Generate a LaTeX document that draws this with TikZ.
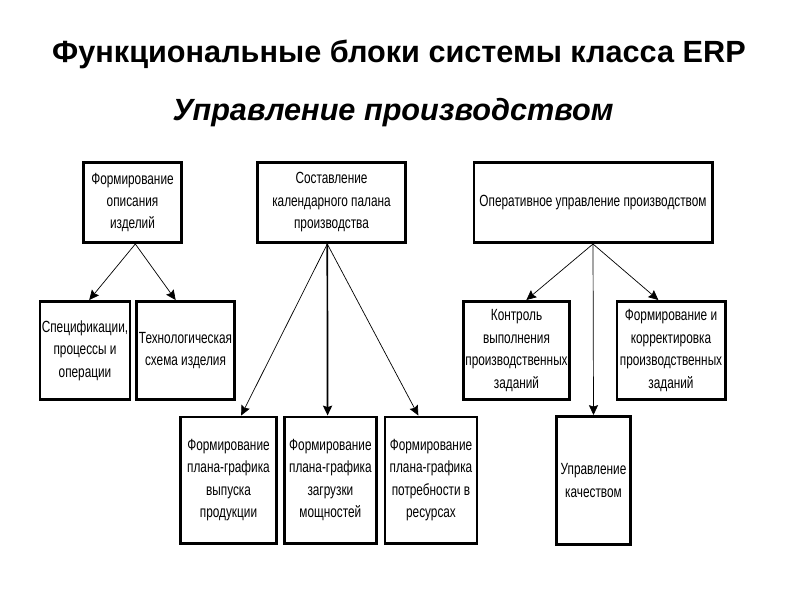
\documentclass[tikz,border=0pt]{standalone}
\usepackage{fontspec}
\setmainfont{Liberation Sans}
\newfontfamily\narrowfont[FakeStretch=0.73]{Liberation Sans}
\usepackage{tikz}
\usetikzlibrary{arrows.meta,positioning}
\tikzset{
    %Define standard arrow tip
    >={Stealth[length=7pt,width=6.5pt,inset=1pt]},
    %Define style for boxes
    block/.style={
           rectangle,
           draw=black, line width=2.1pt,
           inner sep=1pt,
           font=\narrowfont\fontsize{11.5}{16}\selectfont,
           align=center},
    % Define arrow style
    pil/.style={
           ->,
           line width=0.5pt,
           shorten >=0pt,
           shorten <=0pt},
    headline/.style={
           font=\fontsize{21.8}{26}\selectfont\bfseries}
}
\begin{document}
\begin{tikzpicture}[x=0.025cm,y=-0.025cm]
\useasboundingbox (0,0) rectangle (800,600);
\node[headline](t1) at (399,54){Функциональные блоки системы класса ERP};
\node[headline,font=\fontsize{21.8}{26}\selectfont\bfseries\itshape](t2) at (393,113){Управление производством};
% top row
\node[block, minimum width=2.45cm, minimum height=2.0cm](1) at (132.5,202.5){Формирование\\описания\\изделий};
\node[block, minimum width=3.7cm, minimum height=2.0cm](2) at (331.5,202.5){Составление\\календарного палана\\производства};
\node[block, minimum width=5.95cm, minimum height=2.0cm](3) at (593,202.5){Оперативное управление производством};
% second row
\node[block, minimum width=2.25cm, minimum height=2.45cm](4) at (85,350.5){Спецификации,\\процессы и\\операции};
\node[block, minimum width=2.45cm, minimum height=2.45cm, right=2.5pt of 4](5){Технологическая\\схема изделия};
\node[block, minimum width=2.65cm, minimum height=2.45cm](9) at (516.5,350.5){Контроль\\выполнения\\производственных\\заданий};
\node[block, minimum width=2.7cm, minimum height=2.45cm](10) at (671,350.5){Формирование и\\корректировка\\производственных\\заданий};
% third row
\node[block, minimum width=2.4cm, minimum height=3.15cm](6) at (228.5,480){Формирование\\плана-графика\\выпуска\\продукции};
\node[block, minimum width=2.3cm, minimum height=3.15cm, right=3.5pt of 6](7){Формирование\\плана-графика\\загрузки\\мощностей};
\node[block, minimum width=2.3cm, minimum height=3.15cm, right=4pt of 7](8){Формирование\\плана-графика\\потребности в\\ресурсах};
\node[block, minimum width=1.85cm, minimum height=3.2cm](11) at (593.5,480.5){Управление\\качеством};
\path[pil]
	([xshift=2pt]1.south) edge ([xshift=3pt]4.north) edge ([xshift=-7pt]5.north)
	([xshift=-3pt]2.south) edge ([xshift=9pt]6.north) edge[line width=1.2pt] ([xshift=-2pt]7.north) edge ([xshift=-9pt]8.north)
	(3.south) edge ([xshift=7pt]9.north) edge ([xshift=-9pt]10.north);
\draw[pil] (3.south) -- (11.north);
\end{tikzpicture}
\end{document}
